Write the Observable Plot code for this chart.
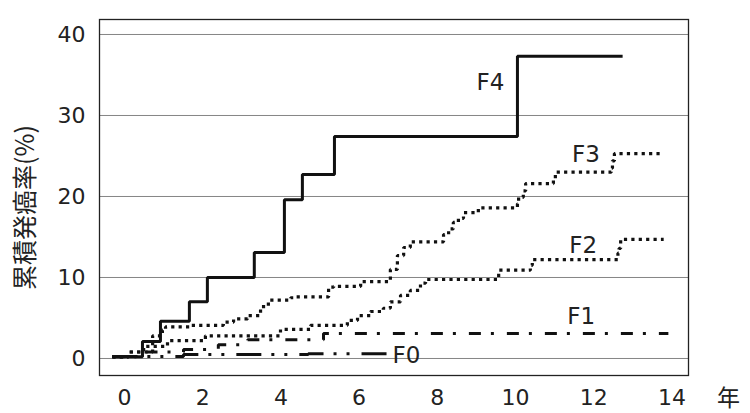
<!DOCTYPE html>
<html><head><meta charset="utf-8">
<script src="https://cdn.jsdelivr.net/npm/d3@7"></script>
<script src="https://cdn.jsdelivr.net/npm/@observablehq/plot@0.6"></script>
<style>body{margin:0;background:#fff;}</style>
</head><body><div id="chart"></div>
<script>
// Step change points: [year, cumulative %]
const f4 = [[-0.31,0.2],[0.46,2.1],[0.92,4.6],[1.66,7.0],[2.12,10.0],[3.32,13.1],[4.09,19.6],[4.55,22.7],[5.37,27.4],[10.05,37.3],[12.74,37.3]];
const f3 = [[-0.31,0.2],[0.10,0.8],[0.72,2.8],[0.97,3.5],[1.05,3.9],[1.69,4.1],[2.53,4.5],[2.79,4.9],[3.15,5.3],[3.48,6.4],[3.68,7.2],[4.25,7.5],[4.32,7.6],[5.22,8.8],[5.35,8.9],[6.04,9.5],[6.8,11.0],[6.98,12.7],[7.14,13.7],[7.31,14.4],[8.16,15.3],[8.29,16.0],[8.41,16.8],[8.54,17.3],[8.67,18.0],[9.05,18.6],[10.05,19.1],[10.08,19.9],[10.2,20.7],[10.26,21.6],[10.97,22.2],[11.02,23.0],[12.45,23.5],[12.48,24.4],[12.53,25.3],[13.71,25.3]];
const f2 = [[-0.31,0.2],[0.10,0.8],[0.49,1.5],[1.10,2.2],[2.07,2.8],[3.99,3.6],[4.76,4.1],[5.70,4.7],[5.96,5.3],[6.29,5.8],[6.62,6.2],[6.80,7.0],[7.06,7.8],[7.31,8.4],[7.57,9.3],[7.70,9.75],[9.57,10.9],[10.38,11.5],[10.43,12.2],[12.62,13.0],[12.65,13.6],[12.69,14.7],[13.79,14.7]];
const f1 = [[-0.31,0.2],[0.30,0.8],[1.51,1.1],[2.40,1.7],[3.15,2.3],[5.09,3.1],[13.91,3.1]];
const f0 = [[-0.31,0.25],[1.51,0.5],[4.70,0.6],[6.75,0.6]];

const seriesNames = ["F4","F3","F2","F1","F0"];
const seriesData = [f4, f3, f2, f1, f0];

const labelNames = ["F4","F3","F2","F1","F0"];
const labelX = [9.36, 11.80, 11.73, 11.68, 7.21];
const labelY = [34.1, 25.2, 13.95, 5.2, 0.37];

const xTicks = [0,2,4,6,8,10,12,14];
const yTicks = [0,10,20,30,40];
const yTitle = "累積発癌率(%)";
const xUnit = "年";

const lineStyle = {
  F4: {strokeWidth: 3, strokeDasharray: null},
  F3: {strokeWidth: 3.2, strokeDasharray: "3.2 4.2"},
  F2: {strokeWidth: 3.2, strokeDasharray: "3.2 4.2"},
  F1: {strokeWidth: 3, strokeDasharray: "12 10 3 13"},
  F0: {strokeWidth: 3, strokeDasharray: "25 10 3 10 3 12"}
};

const lineMarks = seriesNames.map((name, i) => {
  const rows = seriesData[i].map(([t, v]) => ({t, v}));
  const st = lineStyle[name];
  const opts = {x: "t", y: "v", curve: "step-after", stroke: "#111", strokeWidth: st.strokeWidth, strokeLinecap: "butt", strokeLinejoin: "miter"};
  if (st.strokeDasharray) opts.strokeDasharray = st.strokeDasharray;
  return Plot.line(rows, opts);
});

const labels = labelNames.map((n, i) => ({n, x: labelX[i], y: labelY[i]}));

const chart = Plot.plot({
  width: 750, height: 413,
  marginLeft: 99, marginRight: 62, marginTop: 19, marginBottom: 38,
  x: {domain: [-0.639, 14.425]},
  y: {domain: [-2.1, 41.85]},
  style: {fontFamily: "DejaVu Sans", fontSize: "22px", color: "#222", background: "#fff"},
  marks: [
    Plot.gridY(yTicks, {stroke: "#666", strokeOpacity: 1, strokeWidth: 0.8}),
    Plot.frame({stroke: "#222", strokeWidth: 1.3}),
    Plot.axisY(yTicks, {tickSize: 0, tickPadding: 14, label: null, fontSize: 22}),
    Plot.axisX(xTicks, {tickSize: 0, tickPadding: 14, label: null, fontSize: 22}),
    ...lineMarks,
    Plot.text(labels, {x: "x", y: "y", text: "n", fontSize: 23, fill: "#222", textAnchor: "middle", lineAnchor: "middle"}),
    Plot.text([yTitle], {frameAnchor: "left", dx: -74, dy: 10, rotate: -90, fontFamily: "Noto Sans CJK JP", fontSize: 25, fill: "#222", lineAnchor: "middle", textAnchor: "middle"}),
    Plot.text([xUnit], {frameAnchor: "bottom-right", dx: 40, dy: 23, fontFamily: "Noto Sans CJK JP", fontSize: 23, fill: "#222", lineAnchor: "middle", textAnchor: "middle"})
  ]
});
document.getElementById("chart").appendChild(chart);
</script>
</body></html>
